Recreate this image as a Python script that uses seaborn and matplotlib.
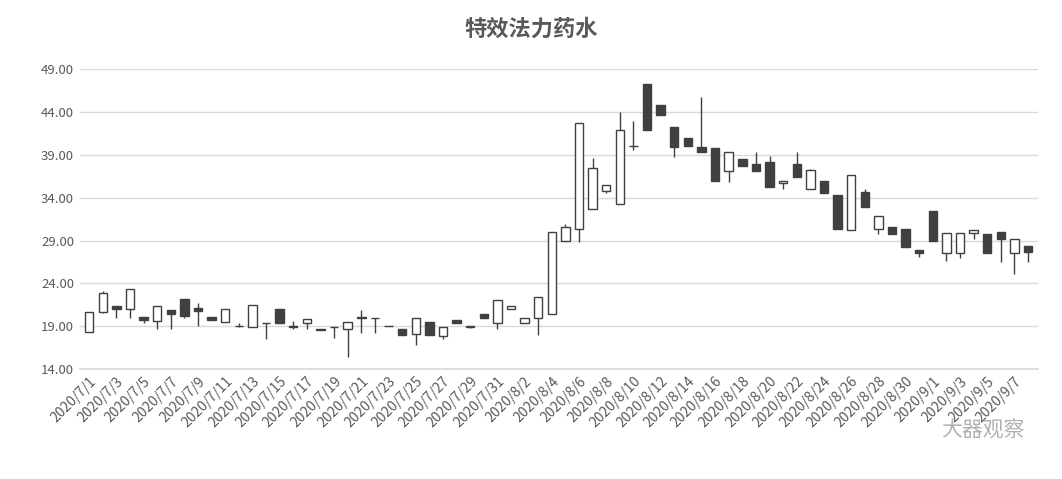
import matplotlib
matplotlib.use("Agg")
import matplotlib.pyplot as plt
import seaborn as sns
import numpy as np
import pandas as pd

dates = pd.date_range("2020-07-01", "2020-09-08")
labels = [f"{d.year}/{d.month}/{d.day}" for d in dates]

opens = [18.3,20.7,21.4,21.0,20.1,19.6,20.9,22.2,21.1,20.1,19.5,19.0,18.9,19.4,21.0,18.9,19.4,18.5,18.9,18.6,
         20.0,20.0,19.0,18.6,18.1,19.5,17.8,19.7,18.9,20.4,19.3,21.0,19.3,19.9,20.4,28.9,30.4,32.7,34.8,33.3,
         40.0,47.3,44.8,42.3,41.0,39.9,39.8,37.1,38.5,38.0,38.2,35.7,38.0,35.0,36.0,34.3,30.2,34.7,30.3,30.6,
         30.4,27.9,32.5,27.5,27.5,29.9,29.8,30.0,27.6,28.4]
closes = [20.6,22.9,21.0,23.3,19.7,21.3,20.4,20.2,20.8,19.7,21.0,19.0,21.5,19.3,19.3,19.0,19.8,18.7,18.9,19.5,
          20.1,19.9,19.0,17.9,19.9,18.0,18.9,19.3,19.0,19.9,22.0,21.3,20.0,22.4,30.0,30.6,42.7,37.5,35.5,41.9,
          40.1,41.9,43.7,39.9,40.0,39.4,36.0,39.4,37.7,37.1,35.3,36.0,36.4,37.2,34.6,30.3,36.7,32.9,31.9,29.8,
          28.3,27.5,28.9,29.9,29.9,30.2,27.6,29.2,29.2,27.7]
highs = [20.7,23.1,21.4,23.3,20.1,21.3,20.9,22.2,21.7,20.1,21.0,19.4,21.5,19.4,21.0,19.6,19.8,18.7,18.9,19.5,
         20.9,20.0,19.0,18.6,19.9,19.5,18.9,19.7,19.0,20.4,22.0,21.3,20.0,22.4,30.0,30.9,42.7,38.6,35.5,44.0,
         43.0,47.3,44.8,42.3,41.0,45.8,39.8,39.4,38.5,39.4,38.9,36.0,39.4,37.4,36.0,34.3,36.7,35.0,31.9,30.6,
         30.4,27.9,32.5,29.9,29.9,30.2,29.8,30.0,29.2,28.4]
lows = [18.3,20.5,20.0,20.0,19.3,18.7,18.6,20.0,19.0,19.7,19.5,18.9,18.9,17.5,19.3,18.6,18.6,18.5,17.6,15.4,
        18.2,18.2,19.0,17.9,16.8,18.0,17.5,19.3,18.8,19.9,18.6,21.0,19.3,18.0,20.4,28.9,28.8,32.7,34.6,33.3,
        39.6,41.9,43.7,38.8,40.0,39.4,36.0,35.9,37.7,37.1,35.3,35.0,36.4,35.0,34.5,30.3,30.2,32.9,29.8,29.8,
        28.3,27.1,28.9,26.6,26.9,29.2,27.6,26.5,25.1,26.5]

sns.set_theme(style="white")
plt.rcParams['font.family'] = ['Noto Sans CJK SC', 'DejaVu Sans']

fig = plt.figure(figsize=(10.62, 4.79), dpi=100)
ax = fig.add_axes([0.075, 0.23, 0.902, 0.625])
x = np.arange(len(dates))
o, c, h, l = map(np.array, (opens, closes, highs, lows))
edge = "#404040"
ax.vlines(x, l, h, color=edge, lw=1, zorder=2)
up = c >= o
ax.bar(x[up], (c - o)[up], bottom=o[up], width=0.62, color="white", edgecolor=edge, lw=1, zorder=3)
ax.bar(x[~up], (o - c)[~up], bottom=c[~up], width=0.62, color=edge, edgecolor=edge, lw=1, zorder=3)

ax.set_ylim(14, 49)
ax.set_yticks(np.arange(14, 50, 5))
ax.set_yticklabels([f"{v:.2f}" for v in np.arange(14, 50, 5)], fontsize=9.5, color="#595959")
ax.yaxis.grid(True, color="#d9d9d9", lw=1)
ax.set_xlim(-0.7, len(dates) - 0.3)
ax.set_xticks(x[::2])
ax.set_xticklabels(labels[::2], rotation=45, ha="right", rotation_mode="anchor", fontsize=10, color="#595959")
ax.tick_params(axis="both", length=0, pad=4)
for s in ["top", "right", "left"]:
    ax.spines[s].set_visible(False)
ax.spines["bottom"].set_color("#d9d9d9")
fig.text(0.5, 0.94, "特效法力药水", ha="center", va="center", fontsize=16, color="#595959", fontweight="bold")
fig.text(0.965, 0.1, "大器观察", ha="right", va="center", fontsize=15, color="#b0b0b0")
fig.savefig("out.png", dpi=100)
